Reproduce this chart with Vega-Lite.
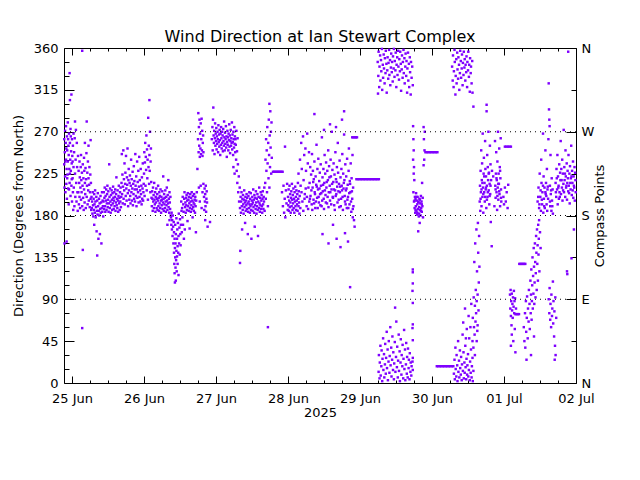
{
"$schema": "https://vega.github.io/schema/vega-lite/v6.json",
"autosize": "none",
"width": 512,
"height": 335,
"padding": {"left": 64, "top": 48, "right": 64, "bottom": 97},
"background": "white",
"title": {"text": "Wind Direction at Ian Stewart Complex", "font": "DejaVu Sans", "fontSize": 16, "fontWeight": "normal", "color": "black", "offset": 7, "dy": 10, "anchor": "middle"},
"config": {
  "view": {"stroke": "black", "strokeWidth": 1},
  "axis": {"labelFont": "DejaVu Sans", "labelFontSize": 13, "labelColor": "black", "titleFont": "DejaVu Sans", "titleFontSize": 13, "titleFontWeight": "normal", "titleColor": "black", "tickColor": "black", "tickWidth": 1, "domain": false, "grid": false, "labelOverlap": false, "labelFlush": false, "labelBound": false}
},
"resolve": {"axis": {"x": "independent", "y": "independent"}},
"layer": [
{
  "data": {"values": [
{"t":-2.6,"d":262},{"t":-2.6,"d":235},{"t":-2.5,"d":150},{"t":-2.4,"d":248},{"t":-2.3,"d":271},{"t":-2.3,"d":222},{"t":-2.2,"d":205},{"t":-2.1,"d":258},{"t":-2.0,"d":240},{"t":-2.0,"d":276},{"t":-1.9,"d":214},{"t":-1.8,"d":230},{"t":-1.8,"d":152},{"t":-1.7,"d":265},{"t":-1.7,"d":198},{"t":-1.6,"d":250},{"t":-1.5,"d":224},{"t":-1.4,"d":280},{"t":-1.4,"d":238},{"t":-1.3,"d":209},{"t":-1.2,"d":255},{"t":-1.1,"d":192},{"t":-1.1,"d":245},{"t":-1.0,"d":268},{"t":-0.9,"d":230},{"t":-0.8,"d":215},{"t":-0.8,"d":333},{"t":-0.7,"d":258},{"t":-0.7,"d":304},{"t":-0.6,"d":240},{"t":-0.5,"d":201},{"t":-0.5,"d":273},{"t":-0.4,"d":228},{"t":-0.3,"d":249},{"t":-0.2,"d":212},{"t":-0.2,"d":310},{"t":-0.1,"d":236},{"t":0.0,"d":262},{"t":0.0,"d":195},{"t":0.1,"d":244},{"t":0.2,"d":220},{"t":0.3,"d":255},{"t":0.3,"d":205},{"t":0.4,"d":186},{"t":0.5,"d":232},{"t":0.5,"d":268},
{"t":-2.5,"d":210},{"t":-2.2,"d":238},{"t":-1.9,"d":252},{"t":-1.6,"d":220},{"t":-1.3,"d":262},{"t":-1.0,"d":208},{"t":-0.7,"d":225},{"t":-0.4,"d":265},{"t":-0.1,"d":219},{"t":0.2,"d":238},
{"t":0.6,"d":210},{"t":0.7,"d":248},{"t":0.8,"d":190},{"t":0.9,"d":263},{"t":1.0,"d":281},{"t":1.0,"d":225},{"t":1.1,"d":200},{"t":1.2,"d":240},{"t":1.3,"d":272},{"t":1.4,"d":215},{"t":1.5,"d":195},{"t":1.6,"d":258},{"t":1.7,"d":232},{"t":1.8,"d":205},{"t":1.9,"d":185},{"t":2.0,"d":244},
{"t":2.1,"d":205},{"t":2.2,"d":228},{"t":2.3,"d":192},{"t":2.4,"d":215},{"t":2.5,"d":238},{"t":2.5,"d":200},{"t":2.6,"d":221},{"t":2.7,"d":188},{"t":2.8,"d":210},{"t":2.9,"d":232},{"t":3.0,"d":197},{"t":3.0,"d":245},{"t":3.1,"d":218},{"t":3.2,"d":205},{"t":3.3,"d":226},{"t":3.4,"d":59},{"t":3.4,"d":357},{"t":3.4,"d":190},{"t":3.5,"d":212},{"t":3.6,"d":143},{"t":3.6,"d":235},{"t":3.7,"d":199},{"t":3.8,"d":220},{"t":3.9,"d":186},{"t":4.0,"d":208},{"t":4.0,"d":242},{"t":4.1,"d":228},{"t":4.2,"d":194},{"t":4.3,"d":215},{"t":4.3,"d":258},{"t":4.4,"d":203},{"t":4.5,"d":231},{"t":4.6,"d":188},{"t":4.7,"d":219},{"t":4.8,"d":247},{"t":4.9,"d":281},{"t":4.9,"d":200},{"t":5.0,"d":212},{"t":5.1,"d":226},{"t":5.2,"d":192},{"t":5.3,"d":238},{"t":5.4,"d":207},{"t":5.5,"d":255},{"t":5.5,"d":220},{"t":5.6,"d":196},{"t":5.7,"d":213},{"t":5.8,"d":232},{"t":5.9,"d":189},{"t":6.0,"d":205},{"t":6.1,"d":224},{"t":6.2,"d":261},{"t":6.2,"d":198},{"t":6.3,"d":215},{"t":6.4,"d":186},
{"t":6.5,"d":200},{"t":6.6,"d":188},{"t":6.7,"d":195},{"t":6.8,"d":182},{"t":6.9,"d":205},{"t":7.0,"d":191},{"t":7.1,"d":179},{"t":7.2,"d":198},{"t":7.3,"d":186},{"t":7.4,"d":170},{"t":7.4,"d":203},{"t":7.5,"d":192},{"t":7.6,"d":183},{"t":7.7,"d":207},{"t":7.8,"d":195},{"t":7.9,"d":178},{"t":8.0,"d":189},{"t":8.1,"d":200},{"t":8.2,"d":163},{"t":8.3,"d":185},{"t":8.4,"d":137},{"t":8.4,"d":196},{"t":8.5,"d":181},{"t":8.6,"d":204},{"t":8.7,"d":190},{"t":8.8,"d":155},{"t":8.9,"d":185},{"t":9.0,"d":198},{"t":9.1,"d":180},{"t":9.2,"d":193},{"t":9.3,"d":160},{"t":9.4,"d":187},{"t":9.5,"d":201},{"t":9.6,"d":183},{"t":9.7,"d":194},{"t":9.8,"d":150},{"t":9.9,"d":188},{"t":10.0,"d":205},{"t":10.1,"d":184},{"t":10.2,"d":196},{"t":10.3,"d":190},{"t":10.4,"d":179},
{"t":10.5,"d":195},{"t":10.6,"d":205},{"t":10.7,"d":187},{"t":10.8,"d":199},{"t":10.9,"d":210},{"t":11.0,"d":190},{"t":11.1,"d":184},{"t":11.2,"d":201},{"t":11.3,"d":196},{"t":11.4,"d":208},{"t":11.5,"d":186},{"t":11.6,"d":193},{"t":11.7,"d":203},{"t":11.8,"d":212},{"t":11.9,"d":189},{"t":12.0,"d":197},{"t":12.1,"d":206},{"t":12.2,"d":184},{"t":12.3,"d":193},{"t":12.4,"d":235},{"t":12.5,"d":200},{"t":12.6,"d":188},{"t":12.7,"d":209},{"t":12.8,"d":195},{"t":12.9,"d":183},{"t":13.0,"d":202},{"t":13.1,"d":191},{"t":13.2,"d":207},{"t":13.3,"d":197},{"t":13.4,"d":186},{"t":13.5,"d":204},{"t":13.6,"d":193},{"t":13.7,"d":211},{"t":13.8,"d":199},{"t":13.9,"d":187},{"t":14.0,"d":196},{"t":14.1,"d":205},{"t":14.2,"d":190},{"t":14.3,"d":200},{"t":14.4,"d":208},{"t":14.5,"d":185},{"t":14.6,"d":194},{"t":14.7,"d":203},{"t":14.8,"d":221},{"t":14.9,"d":191},{"t":15.0,"d":198},{"t":15.1,"d":188},{"t":15.2,"d":207},{"t":15.3,"d":196},{"t":15.4,"d":184},{"t":15.5,"d":201},{"t":15.6,"d":212},{"t":15.7,"d":193},{"t":15.8,"d":199},{"t":15.9,"d":186},{"t":16.0,"d":205},{"t":16.1,"d":195},{"t":16.2,"d":210},{"t":16.3,"d":189},{"t":16.4,"d":200},
{"t":16.5,"d":215},{"t":16.6,"d":246},{"t":16.7,"d":203},{"t":16.8,"d":224},{"t":16.9,"d":193},{"t":17.0,"d":211},{"t":17.1,"d":250},{"t":17.2,"d":198},{"t":17.3,"d":219},{"t":17.4,"d":207},{"t":17.5,"d":236},{"t":17.6,"d":192},{"t":17.7,"d":214},{"t":17.8,"d":226},{"t":17.9,"d":201},{"t":18.0,"d":244},{"t":18.1,"d":209},{"t":18.2,"d":196},{"t":18.3,"d":221},{"t":18.4,"d":213},{"t":18.5,"d":252},{"t":18.6,"d":204},{"t":18.7,"d":190},{"t":18.8,"d":218},{"t":18.9,"d":230},{"t":19.0,"d":207},{"t":19.1,"d":197},{"t":19.2,"d":215},{"t":19.3,"d":223},{"t":19.4,"d":201},{"t":19.5,"d":193},{"t":19.6,"d":212},{"t":19.7,"d":240},{"t":19.8,"d":205},{"t":19.9,"d":219},{"t":20.0,"d":196},{"t":20.1,"d":209},{"t":20.2,"d":227},{"t":20.3,"d":191},{"t":20.4,"d":214},{"t":20.5,"d":203},{"t":20.6,"d":233},{"t":20.7,"d":198},{"t":20.8,"d":217},{"t":20.9,"d":208},{"t":21.0,"d":195},{"t":21.1,"d":246},{"t":21.2,"d":212},{"t":21.3,"d":201},{"t":21.4,"d":222},{"t":21.5,"d":190},{"t":21.6,"d":208},{"t":21.7,"d":238},{"t":21.8,"d":199},{"t":21.9,"d":216},{"t":22.0,"d":205},{"t":22.1,"d":228},{"t":22.2,"d":194},{"t":22.3,"d":211},{"t":22.4,"d":243},
{"t":22.5,"d":200},{"t":22.6,"d":218},{"t":22.7,"d":207},{"t":22.8,"d":195},{"t":22.9,"d":230},{"t":23.0,"d":203},{"t":23.1,"d":212},{"t":23.2,"d":192},{"t":23.3,"d":221},{"t":23.4,"d":198},{"t":23.5,"d":209},{"t":23.6,"d":236},{"t":23.7,"d":196},{"t":23.8,"d":205},{"t":23.9,"d":214},
{"t":24.0,"d":225},{"t":24.1,"d":248},{"t":24.2,"d":201},{"t":24.3,"d":237},{"t":24.4,"d":258},{"t":24.5,"d":212},{"t":24.6,"d":243},{"t":24.7,"d":229},{"t":24.8,"d":266},{"t":24.9,"d":207},{"t":25.0,"d":251},{"t":25.1,"d":220},{"t":25.2,"d":240},{"t":25.3,"d":197},{"t":25.4,"d":285},{"t":25.5,"d":232},{"t":25.6,"d":255},{"t":25.7,"d":214},{"t":25.8,"d":304},{"t":25.8,"d":245},{"t":25.9,"d":228},{"t":26.0,"d":270},{"t":26.1,"d":205},{"t":26.2,"d":238},{"t":26.3,"d":252},{"t":26.4,"d":216},{"t":26.5,"d":199},
{"t":26.6,"d":190},{"t":26.7,"d":206},{"t":26.8,"d":198},{"t":26.9,"d":185},{"t":27.0,"d":210},{"t":27.1,"d":195},{"t":27.2,"d":202},{"t":27.3,"d":188},{"t":27.4,"d":215},{"t":27.5,"d":197},{"t":27.6,"d":192},{"t":27.7,"d":205},{"t":27.8,"d":184},{"t":27.9,"d":200},{"t":28.0,"d":194},{"t":28.1,"d":209},{"t":28.2,"d":188},{"t":28.3,"d":198},{"t":28.4,"d":203},{"t":28.5,"d":186},{"t":28.6,"d":196},{"t":28.7,"d":212},{"t":28.8,"d":190},{"t":28.9,"d":199},{"t":29.0,"d":185},{"t":29.1,"d":205},{"t":29.2,"d":193},{"t":29.3,"d":201},{"t":29.4,"d":188},{"t":29.5,"d":208},{"t":29.6,"d":196},{"t":29.7,"d":183},{"t":29.8,"d":200},{"t":29.9,"d":191},{"t":30.0,"d":197},{"t":30.1,"d":206},{"t":30.2,"d":187},{"t":30.3,"d":194},{"t":30.4,"d":222},{"t":30.5,"d":198},{"t":30.6,"d":185},{"t":30.7,"d":203},{"t":30.8,"d":192},{"t":30.9,"d":199},{"t":31.0,"d":188},{"t":31.1,"d":207},{"t":31.2,"d":195},{"t":31.3,"d":184},{"t":31.4,"d":200},{"t":31.5,"d":191},{"t":31.6,"d":210},{"t":31.7,"d":196},{"t":31.8,"d":186},{"t":31.8,"d":170},{"t":31.9,"d":202},{"t":32.0,"d":193},{"t":32.1,"d":218},{"t":32.2,"d":189},{"t":32.3,"d":198},{"t":32.4,"d":183},{"t":32.5,"d":205},{"t":32.5,"d":175},{"t":32.6,"d":194},{"t":32.7,"d":187},{"t":32.8,"d":200},{"t":32.9,"d":180},
{"t":33.0,"d":178},{"t":33.1,"d":170},{"t":33.2,"d":183},{"t":33.3,"d":165},{"t":33.4,"d":175},{"t":33.5,"d":158},{"t":33.6,"d":180},{"t":33.7,"d":168},{"t":33.8,"d":150},{"t":33.9,"d":173},{"t":34.0,"d":140},{"t":34.0,"d":162},{"t":34.1,"d":128},{"t":34.2,"d":155},{"t":34.2,"d":118},{"t":34.3,"d":145},{"t":34.3,"d":108},{"t":34.4,"d":135},{"t":34.4,"d":170},{"t":34.5,"d":124},{"t":34.5,"d":150},{"t":34.6,"d":110},{"t":34.6,"d":160},{"t":34.7,"d":132},{"t":34.8,"d":142},{"t":34.8,"d":177},{"t":34.9,"d":120},{"t":35.0,"d":155},{"t":35.0,"d":136},{"t":35.1,"d":165},{"t":35.2,"d":128},{"t":35.2,"d":147},{"t":35.3,"d":172},{"t":35.4,"d":140},{"t":35.5,"d":158},{"t":35.5,"d":116},{"t":35.6,"d":182},{"t":35.7,"d":150},{"t":35.8,"d":167},{"t":35.9,"d":138},{"t":36.0,"d":176},{"t":36.1,"d":160},{"t":36.2,"d":148},{"t":36.3,"d":170},{"t":36.5,"d":185},{"t":36.6,"d":162},{"t":36.8,"d":178},{"t":37.0,"d":170},{"t":37.3,"d":155},{"t":37.6,"d":165},
{"t":36.4,"d":195},{"t":36.7,"d":188},{"t":36.9,"d":200},{"t":37.1,"d":192},{"t":37.2,"d":184},{"t":37.4,"d":198},{"t":37.5,"d":205},{"t":37.7,"d":189},{"t":37.8,"d":194},{"t":37.9,"d":183},{"t":38.0,"d":199},{"t":38.1,"d":191},{"t":38.2,"d":202},{"t":38.3,"d":186},{"t":38.4,"d":196},{"t":38.5,"d":174},{"t":38.6,"d":204},{"t":38.7,"d":190},{"t":38.8,"d":197},{"t":38.9,"d":185},{"t":39.0,"d":200},{"t":39.1,"d":193},{"t":39.2,"d":166},{"t":39.3,"d":188},{"t":39.4,"d":203},{"t":39.5,"d":195},{"t":39.6,"d":184},{"t":39.7,"d":199},{"t":39.8,"d":191},{"t":39.9,"d":205},{"t":40.0,"d":187},{"t":40.1,"d":196},{"t":40.2,"d":178},{"t":40.3,"d":201},{"t":40.4,"d":189},{"t":40.5,"d":194},{"t":40.6,"d":185},{"t":40.7,"d":203},{"t":40.8,"d":192},{"t":40.9,"d":197},{"t":41.0,"d":183},{"t":41.1,"d":200},{"t":41.2,"d":190},{"t":41.3,"d":162},{"t":41.4,"d":196},
{"t":41.6,"d":205},{"t":41.8,"d":230},{"t":42.0,"d":262},{"t":42.1,"d":290},{"t":42.2,"d":248},{"t":42.3,"d":275},{"t":42.4,"d":255},{"t":42.5,"d":283},{"t":42.6,"d":243},{"t":42.7,"d":268},{"t":42.8,"d":252},{"t":42.9,"d":279},{"t":43.0,"d":246},{"t":43.1,"d":262},{"t":43.2,"d":284},{"t":43.3,"d":250},{"t":43.4,"d":271},{"t":43.5,"d":244},{"t":43.6,"d":258},{"t":43.7,"d":266},{"t":43.8,"d":248},{"t":42.3,"d":210},{"t":42.6,"d":195},{"t":42.9,"d":212},{"t":43.2,"d":188},{"t":43.5,"d":205},{"t":43.8,"d":214},{"t":44.0,"d":200},{"t":44.1,"d":186},{"t":44.2,"d":209},{"t":44.3,"d":195},{"t":44.4,"d":203},{"t":44.4,"d":175},{"t":44.5,"d":190},{"t":44.6,"d":212},{"t":44.7,"d":184},{"t":44.8,"d":198},{"t":44.9,"d":206},{"t":45.0,"d":194},{"t":45.2,"d":168},{"t":46.0,"d":173},
{"t":46.6,"d":262},{"t":46.8,"d":275},{"t":46.9,"d":250},{"t":47.0,"d":283},{"t":47.1,"d":296},{"t":47.2,"d":266},{"t":47.3,"d":258},{"t":47.4,"d":271},{"t":47.5,"d":246},{"t":47.6,"d":263},{"t":47.7,"d":279},{"t":47.8,"d":255},{"t":47.9,"d":268},{"t":48.0,"d":260},{"t":48.1,"d":274},{"t":48.2,"d":251},{"t":48.3,"d":265},{"t":48.4,"d":257},{"t":48.5,"d":270},{"t":48.6,"d":262},{"t":48.7,"d":248},{"t":48.8,"d":277},{"t":48.9,"d":259},{"t":49.0,"d":267},{"t":49.1,"d":254},{"t":49.2,"d":272},{"t":49.3,"d":261},{"t":49.4,"d":245},{"t":49.5,"d":268},{"t":49.6,"d":256},{"t":49.7,"d":275},{"t":49.8,"d":263},{"t":49.9,"d":252},{"t":50.0,"d":270},{"t":50.1,"d":258},{"t":50.2,"d":266},{"t":50.3,"d":249},{"t":50.4,"d":273},{"t":50.5,"d":260},{"t":50.6,"d":255},{"t":50.7,"d":281},{"t":50.8,"d":264},{"t":50.9,"d":250},{"t":51.0,"d":269},{"t":51.1,"d":257},{"t":51.2,"d":262},{"t":51.3,"d":276},{"t":51.4,"d":253},{"t":51.5,"d":265},{"t":51.6,"d":243},{"t":51.7,"d":259},{"t":51.8,"d":271},{"t":51.9,"d":256},{"t":52.0,"d":264},{"t":52.1,"d":250},{"t":52.2,"d":268},{"t":52.3,"d":261},{"t":52.4,"d":278},{"t":52.5,"d":254},{"t":52.6,"d":266},{"t":52.7,"d":247},{"t":52.8,"d":260},{"t":52.9,"d":272},{"t":53.0,"d":255},{"t":53.1,"d":263},{"t":53.2,"d":258},{"t":53.3,"d":280},{"t":53.4,"d":251},{"t":53.5,"d":267},{"t":53.6,"d":259},{"t":53.7,"d":245},{"t":53.8,"d":270},{"t":53.9,"d":262},{"t":54.0,"d":253},{"t":54.1,"d":275},{"t":54.2,"d":257},{"t":54.3,"d":265},{"t":54.4,"d":248},{"t":54.5,"d":262},{"t":54.6,"d":256},{"t":54.8,"d":271},{"t":55.0,"d":249},{"t":55.2,"d":263},
{"t":54.7,"d":240},{"t":54.9,"d":228},{"t":55.1,"d":215},{"t":55.3,"d":235},{"t":55.4,"d":205},{"t":55.6,"d":222},{"t":55.7,"d":195},{"t":55.9,"d":210},{"t":53.8,"d":232},{"t":54.2,"d":225},
{"t":56.0,"d":129},{"t":56.0,"d":188},{"t":56.1,"d":142},{"t":56.2,"d":200},{"t":56.3,"d":183},{"t":56.4,"d":195},{"t":56.5,"d":205},{"t":56.6,"d":190},{"t":56.7,"d":165},{"t":56.8,"d":198},{"t":56.9,"d":186},{"t":57.0,"d":202},{"t":57.1,"d":192},{"t":57.2,"d":182},{"t":57.3,"d":197},{"t":57.4,"d":207},{"t":57.5,"d":189},{"t":57.6,"d":194},{"t":57.7,"d":172},{"t":57.8,"d":200},{"t":57.9,"d":185},{"t":58.0,"d":196},{"t":58.1,"d":191},{"t":58.2,"d":203},{"t":58.3,"d":187},{"t":58.4,"d":199},{"t":58.5,"d":193},{"t":58.6,"d":160},{"t":58.7,"d":184},{"t":58.8,"d":201},{"t":58.9,"d":195},{"t":59.0,"d":188},{"t":59.1,"d":205},{"t":59.2,"d":192},{"t":59.3,"d":183},{"t":59.4,"d":198},{"t":59.5,"d":190},{"t":59.6,"d":204},{"t":59.7,"d":186},{"t":59.8,"d":155},{"t":59.9,"d":196},{"t":60.0,"d":192},{"t":60.1,"d":200},{"t":60.2,"d":185},{"t":60.3,"d":194},{"t":60.4,"d":208},{"t":60.5,"d":189},{"t":60.6,"d":197},{"t":60.7,"d":183},{"t":60.8,"d":202},{"t":60.9,"d":168},{"t":61.0,"d":191},{"t":61.1,"d":199},{"t":61.2,"d":187},{"t":61.3,"d":206},{"t":61.4,"d":194},{"t":61.5,"d":182},{"t":61.6,"d":198},{"t":61.7,"d":190},{"t":61.8,"d":203},{"t":61.9,"d":186},{"t":62.0,"d":158},{"t":62.1,"d":195},{"t":62.2,"d":200},{"t":62.3,"d":188},{"t":62.4,"d":210},{"t":62.5,"d":193},{"t":62.6,"d":184},{"t":62.7,"d":199},{"t":62.8,"d":191},{"t":62.9,"d":205},{"t":63.0,"d":187},{"t":63.1,"d":196},{"t":63.2,"d":202},{"t":63.3,"d":190},{"t":63.4,"d":183},{"t":63.5,"d":198},{"t":63.6,"d":206},{"t":63.7,"d":192},{"t":63.8,"d":187},{"t":63.9,"d":200},{"t":64.0,"d":195},{"t":64.1,"d":210},{"t":64.2,"d":185},
{"t":64.4,"d":215},{"t":64.5,"d":240},{"t":64.6,"d":198},{"t":64.7,"d":262},{"t":64.8,"d":228},{"t":64.9,"d":250},{"t":65.0,"d":205},{"t":65.1,"d":275},{"t":65.2,"d":236},{"t":65.3,"d":60},{"t":65.3,"d":190},{"t":65.4,"d":258},{"t":65.5,"d":220},{"t":65.6,"d":283},{"t":65.7,"d":245},{"t":65.8,"d":300},{"t":65.8,"d":210},{"t":65.9,"d":266},{"t":66.0,"d":232},{"t":66.1,"d":292},{"t":66.2,"d":253},{"t":66.3,"d":270},{"t":66.4,"d":225},{"t":66.5,"d":280},{"t":66.6,"d":242},
{"t":67.0,"d":227},{"t":67.4,"d":227},{"t":67.8,"d":227},{"t":68.2,"d":227},{"t":68.6,"d":227},{"t":69.0,"d":227},{"t":69.4,"d":227},{"t":69.8,"d":227},{"t":70.2,"d":227},
{"t":70.0,"d":205},{"t":70.3,"d":190},{"t":70.5,"d":212},{"t":70.7,"d":183},{"t":70.9,"d":198},{"t":71.0,"d":254},{"t":71.1,"d":178},{"t":71.3,"d":207},{"t":71.5,"d":193},{"t":71.7,"d":214},{"t":71.9,"d":186},
{"t":72.0,"d":200},{"t":72.1,"d":191},{"t":72.2,"d":208},{"t":72.3,"d":185},{"t":72.4,"d":196},{"t":72.5,"d":212},{"t":72.6,"d":189},{"t":72.7,"d":203},{"t":72.8,"d":194},{"t":72.9,"d":183},{"t":73.0,"d":199},{"t":73.1,"d":206},{"t":73.2,"d":190},{"t":73.3,"d":214},{"t":73.4,"d":197},{"t":73.5,"d":186},{"t":73.6,"d":202},{"t":73.7,"d":193},{"t":73.8,"d":209},{"t":73.9,"d":188},{"t":74.0,"d":198},{"t":74.1,"d":183},{"t":74.2,"d":205},{"t":74.3,"d":195},{"t":74.4,"d":211},{"t":74.5,"d":190},{"t":74.6,"d":200},{"t":74.7,"d":186},{"t":74.8,"d":207},{"t":74.9,"d":196},{"t":75.0,"d":192},{"t":75.1,"d":203},{"t":75.2,"d":185},{"t":75.3,"d":215},{"t":75.4,"d":198},{"t":75.5,"d":190},{"t":75.6,"d":206},{"t":75.7,"d":194},{"t":75.8,"d":182},{"t":75.9,"d":201},
{"t":75.5,"d":225},{"t":76.0,"d":240},{"t":76.2,"d":212},{"t":76.4,"d":258},{"t":76.6,"d":230},{"t":76.8,"d":195},{"t":77.0,"d":265},{"t":77.2,"d":218},{"t":77.4,"d":245},{"t":77.6,"d":203},{"t":77.8,"d":252},{"t":78.0,"d":228},{"t":78.2,"d":190},{"t":78.4,"d":268},{"t":78.6,"d":236},{"t":78.8,"d":210},{"t":79.0,"d":248},{"t":76.1,"d":188},{"t":76.5,"d":205},{"t":77.1,"d":185},{"t":77.5,"d":198},{"t":77.9,"d":209},{"t":78.3,"d":200},{"t":78.7,"d":187},{"t":79.1,"d":195},
{"t":79.2,"d":215},{"t":79.4,"d":232},{"t":79.5,"d":201},{"t":79.7,"d":224},{"t":79.9,"d":192},{"t":80.0,"d":246},{"t":80.2,"d":210},{"t":80.3,"d":228},{"t":80.5,"d":197},{"t":80.6,"d":219},{"t":80.8,"d":238},{"t":80.9,"d":205},{"t":81.1,"d":188},{"t":81.2,"d":222},{"t":81.4,"d":213},{"t":81.5,"d":256},{"t":81.7,"d":199},{"t":81.8,"d":230},{"t":82.0,"d":208},{"t":82.1,"d":241},{"t":82.3,"d":194},{"t":82.4,"d":217},{"t":82.6,"d":226},{"t":82.7,"d":203},{"t":82.9,"d":235},{"t":83.0,"d":212},{"t":83.2,"d":190},{"t":83.3,"d":264},{"t":83.5,"d":221},{"t":83.6,"d":206},{"t":83.8,"d":230},{"t":83.9,"d":198},{"t":84.1,"d":215},{"t":84.2,"d":245},{"t":84.4,"d":225},{"t":84.5,"d":202},{"t":84.7,"d":237},{"t":84.8,"d":210},{"t":85.0,"d":193},{"t":85.1,"d":228},{"t":85.3,"d":218},{"t":85.4,"d":250},{"t":85.6,"d":205},{"t":85.7,"d":233},{"t":85.9,"d":212},{"t":86.0,"d":196},{"t":86.2,"d":240},{"t":86.3,"d":222},{"t":86.5,"d":208},{"t":86.6,"d":270},{"t":86.8,"d":229},{"t":86.9,"d":200},{"t":87.1,"d":216},{"t":87.2,"d":236},{"t":87.4,"d":191},{"t":87.5,"d":224},{"t":87.7,"d":207},{"t":87.8,"d":248},{"t":88.0,"d":219},{"t":88.1,"d":203},{"t":88.3,"d":232},{"t":88.4,"d":211},{"t":88.6,"d":258},{"t":88.7,"d":226},{"t":88.9,"d":197},{"t":89.0,"d":214},{"t":89.2,"d":239},{"t":89.3,"d":205},{"t":89.5,"d":221},{"t":89.6,"d":190},{"t":89.8,"d":230},{"t":89.9,"d":212},{"t":90.1,"d":246},{"t":90.2,"d":200},{"t":90.4,"d":225},{"t":90.5,"d":209},{"t":90.7,"d":267},{"t":90.8,"d":218},{"t":91.0,"d":195},{"t":91.1,"d":235},{"t":91.3,"d":207},{"t":91.4,"d":222},{"t":91.6,"d":188},{"t":91.7,"d":241},{"t":91.9,"d":213},{"t":92.0,"d":200},{"t":92.2,"d":228},{"t":92.3,"d":252},{"t":92.5,"d":192},{"t":92.6,"d":217},{"t":92.8,"d":205},{"t":92.9,"d":236},{"t":93.1,"d":184},{"t":93.2,"d":220},{"t":93.4,"d":198},{"t":93.5,"d":245},{"t":93.7,"d":210},{"t":93.8,"d":190},
{"t":79.3,"d":198},{"t":79.8,"d":207},{"t":80.1,"d":186},{"t":80.4,"d":216},{"t":80.7,"d":193},{"t":81.0,"d":203},{"t":81.3,"d":195},{"t":81.6,"d":211},{"t":81.9,"d":188},{"t":82.2,"d":200},{"t":82.5,"d":209},{"t":82.8,"d":191},{"t":83.1,"d":204},{"t":83.4,"d":196},{"t":83.7,"d":213},{"t":84.0,"d":187},{"t":84.3,"d":207},{"t":84.6,"d":194},{"t":84.9,"d":216},{"t":85.2,"d":200},{"t":85.5,"d":189},{"t":85.8,"d":221},{"t":86.1,"d":205},{"t":86.4,"d":192},{"t":86.7,"d":214},{"t":87.0,"d":199},{"t":87.3,"d":208},{"t":87.6,"d":186},{"t":87.9,"d":201},{"t":88.2,"d":216},{"t":88.5,"d":194},{"t":88.8,"d":206},{"t":89.1,"d":189},{"t":89.4,"d":211},{"t":89.7,"d":198},{"t":90.0,"d":207},{"t":90.3,"d":186},{"t":90.6,"d":215},{"t":90.9,"d":201},{"t":91.2,"d":192},{"t":91.5,"d":209},{"t":91.8,"d":197},{"t":92.1,"d":188},{"t":92.4,"d":204},{"t":92.7,"d":214},{"t":93.0,"d":195},{"t":93.3,"d":206},{"t":93.6,"d":187},
{"t":80.8,"d":289},{"t":83.5,"d":160},{"t":85.5,"d":150},{"t":87.0,"d":170},{"t":88.2,"d":155},{"t":89.5,"d":146},{"t":91.0,"d":161},{"t":92.0,"d":152},{"t":92.7,"d":103},{"t":90.0,"d":283},{"t":90.7,"d":292},{"t":86.0,"d":278},{"t":84.0,"d":272},{"t":88.0,"d":275},{"t":94.0,"d":175},{"t":94.2,"d":168},{"t":93.6,"d":178},
{"t":93.4,"d":264},{"t":93.8,"d":264},{"t":94.2,"d":264},{"t":94.6,"d":264},{"t":95.0,"d":264},
{"t":94.8,"d":219},{"t":95.3,"d":219},{"t":95.8,"d":219},{"t":96.3,"d":219},{"t":96.8,"d":219},{"t":97.3,"d":219},{"t":97.8,"d":219},{"t":98.3,"d":219},{"t":98.8,"d":219},{"t":99.3,"d":219},{"t":99.8,"d":219},{"t":100.3,"d":219},{"t":100.8,"d":219},{"t":101.3,"d":219},{"t":101.8,"d":219},{"t":102.3,"d":219},
{"t":101.9,"d":345},{"t":102.0,"d":311},{"t":102.1,"d":330},{"t":102.2,"d":356},{"t":102.4,"d":318},{"t":102.5,"d":340},{"t":102.7,"d":352},{"t":102.8,"d":325},{"t":103.0,"d":347},{"t":103.1,"d":335},{"t":103.3,"d":359},{"t":103.4,"d":315},{"t":103.6,"d":342},{"t":103.7,"d":328},{"t":103.9,"d":353},{"t":104.0,"d":338},{"t":104.2,"d":322},{"t":104.3,"d":349},{"t":104.5,"d":333},{"t":104.6,"d":357},{"t":104.8,"d":343},{"t":104.9,"d":312},{"t":105.1,"d":336},{"t":105.2,"d":350},{"t":105.4,"d":327},{"t":105.5,"d":344},{"t":105.7,"d":358},{"t":105.8,"d":331},{"t":106.0,"d":347},{"t":106.1,"d":320},{"t":106.3,"d":339},{"t":106.4,"d":354},{"t":106.6,"d":334},{"t":106.7,"d":345},{"t":106.9,"d":324},{"t":107.0,"d":351},{"t":107.2,"d":338},{"t":107.3,"d":359},{"t":107.5,"d":329},{"t":107.6,"d":346},{"t":107.8,"d":336},{"t":107.9,"d":355},{"t":108.1,"d":318},{"t":108.2,"d":342},{"t":108.4,"d":350},{"t":108.5,"d":331},{"t":108.7,"d":357},{"t":108.8,"d":340},{"t":109.0,"d":326},{"t":109.1,"d":348},{"t":109.3,"d":335},{"t":109.4,"d":356},{"t":109.6,"d":343},{"t":109.7,"d":314},{"t":109.9,"d":337},{"t":110.0,"d":352},{"t":110.2,"d":328},{"t":110.3,"d":345},{"t":110.5,"d":358},{"t":110.6,"d":333},{"t":110.8,"d":349},{"t":110.9,"d":322},{"t":111.1,"d":340},{"t":111.2,"d":354},{"t":111.4,"d":330},{"t":111.5,"d":346},{"t":111.7,"d":312},{"t":111.8,"d":338},{"t":112.0,"d":355},{"t":112.1,"d":325},{"t":112.3,"d":343},{"t":112.4,"d":318},{"t":112.6,"d":350},{"t":112.7,"d":334},{"t":112.9,"d":310},{"t":113.0,"d":345},{"t":113.2,"d":328},{"t":113.4,"d":340},{"t":113.6,"d":320},
{"t":102.2,"d":12},{"t":102.3,"d":30},{"t":102.5,"d":5},{"t":102.6,"d":22},{"t":102.8,"d":40},{"t":102.9,"d":8},{"t":103.1,"d":18},{"t":103.2,"d":35},{"t":103.4,"d":2},{"t":103.5,"d":26},{"t":103.7,"d":48},{"t":103.8,"d":14},{"t":104.0,"d":31},{"t":104.1,"d":6},{"t":104.3,"d":20},{"t":104.4,"d":42},{"t":104.6,"d":10},{"t":104.7,"d":27},{"t":104.9,"d":55},{"t":105.0,"d":16},{"t":105.2,"d":36},{"t":105.3,"d":3},{"t":105.5,"d":23},{"t":105.6,"d":45},{"t":105.8,"d":11},{"t":105.9,"d":29},{"t":106.1,"d":60},{"t":106.2,"d":19},{"t":106.4,"d":38},{"t":106.5,"d":7},{"t":106.7,"d":25},{"t":106.8,"d":50},{"t":107.0,"d":14},{"t":107.1,"d":33},{"t":107.3,"d":4},{"t":107.4,"d":21},{"t":107.6,"d":44},{"t":107.7,"d":81},{"t":107.8,"d":12},{"t":108.0,"d":28},{"t":108.1,"d":66},{"t":108.3,"d":17},{"t":108.4,"d":39},{"t":108.6,"d":6},{"t":108.7,"d":24},{"t":108.9,"d":52},{"t":109.0,"d":13},{"t":109.2,"d":34},{"t":109.3,"d":2},{"t":109.5,"d":22},{"t":109.6,"d":47},{"t":109.8,"d":9},{"t":109.9,"d":30},{"t":110.1,"d":18},{"t":110.2,"d":41},{"t":110.4,"d":5},{"t":110.5,"d":26},{"t":110.7,"d":57},{"t":110.8,"d":15},{"t":111.0,"d":36},{"t":111.1,"d":3},{"t":111.3,"d":20},{"t":111.4,"d":43},{"t":111.6,"d":10},{"t":111.7,"d":28},{"t":111.9,"d":6},{"t":112.0,"d":37},{"t":112.2,"d":16},{"t":112.3,"d":25},{"t":112.5,"d":4},{"t":112.6,"d":32},{"t":112.8,"d":12},{"t":112.9,"d":22},{"t":113.1,"d":8},{"t":113.2,"d":18},
{"t":113.6,"d":122},{"t":113.6,"d":119},{"t":113.6,"d":107},{"t":113.5,"d":99},{"t":113.6,"d":86},{"t":113.6,"d":63},{"t":113.5,"d":59},{"t":113.6,"d":46},{"t":113.6,"d":27},{"t":113.5,"d":23},{"t":113.6,"d":14},
{"t":113.7,"d":276},{"t":113.8,"d":262},{"t":113.9,"d":250},{"t":113.7,"d":240},{"t":114.0,"d":232},{"t":113.9,"d":225},{"t":114.1,"d":218},{"t":113.8,"d":205},{"t":114.0,"d":195},{"t":114.2,"d":188},{"t":114.3,"d":200},{"t":114.4,"d":183},{"t":114.5,"d":198},{"t":114.6,"d":190},{"t":114.7,"d":204},{"t":114.8,"d":185},{"t":114.9,"d":196},{"t":115.0,"d":181},{"t":115.1,"d":192},{"t":115.2,"d":200},{"t":115.3,"d":187},{"t":115.4,"d":163},{"t":115.5,"d":195},{"t":115.6,"d":179},{"t":115.7,"d":189},{"t":115.8,"d":198},{"t":115.9,"d":172},{"t":116.0,"d":186},{"t":116.1,"d":193},{"t":116.2,"d":180},{"t":116.3,"d":201},{"t":116.4,"d":188},{"t":116.5,"d":195},{"t":116.6,"d":184},{"t":116.8,"d":190},{"t":117.0,"d":178},{"t":116.7,"d":215},{"t":117.2,"d":275},{"t":117.3,"d":262},{"t":117.4,"d":240},{"t":117.5,"d":250},{"t":117.2,"d":234},{"t":117.6,"d":270},
{"t":114.2,"d":196},{"t":114.5,"d":186},{"t":114.8,"d":200},{"t":115.1,"d":183},{"t":115.4,"d":194},{"t":115.7,"d":182},{"t":116.0,"d":197},{"t":116.3,"d":185},{"t":116.6,"d":192},{"t":116.9,"d":199},
{"t":117.8,"d":248},{"t":118.3,"d":248},{"t":118.8,"d":248},{"t":119.3,"d":248},{"t":119.8,"d":248},{"t":120.3,"d":248},{"t":120.8,"d":248},{"t":121.3,"d":248},{"t":121.8,"d":248},
{"t":121.6,"d":18},{"t":122.1,"d":18},{"t":122.6,"d":18},{"t":123.1,"d":18},{"t":123.6,"d":18},{"t":124.1,"d":18},{"t":124.6,"d":18},{"t":125.1,"d":18},{"t":125.6,"d":18},{"t":126.1,"d":18},{"t":126.6,"d":18},{"t":127.1,"d":18},
{"t":126.7,"d":340},{"t":126.9,"d":325},{"t":127.0,"d":352},{"t":127.2,"d":318},{"t":127.3,"d":335},{"t":127.5,"d":358},{"t":127.6,"d":345},{"t":127.8,"d":310},{"t":127.9,"d":330},{"t":128.1,"d":348},{"t":128.2,"d":322},{"t":128.4,"d":355},{"t":128.5,"d":337},{"t":128.7,"d":327},{"t":128.8,"d":350},{"t":129.0,"d":342},{"t":129.1,"d":315},{"t":129.3,"d":333},{"t":129.4,"d":357},{"t":129.6,"d":346},{"t":129.7,"d":328},{"t":129.9,"d":338},{"t":130.0,"d":353},{"t":130.2,"d":320},{"t":130.3,"d":344},{"t":130.5,"d":331},{"t":130.6,"d":356},{"t":130.8,"d":339},{"t":130.9,"d":348},{"t":131.1,"d":325},{"t":131.2,"d":342},{"t":131.4,"d":334},{"t":131.5,"d":351},{"t":131.7,"d":318},{"t":131.8,"d":345},{"t":132.0,"d":336},{"t":132.1,"d":356},{"t":132.3,"d":329},{"t":132.4,"d":342},{"t":132.6,"d":313},{"t":132.7,"d":349},{"t":132.9,"d":333},{"t":133.0,"d":340},{"t":133.2,"d":322},{"t":133.4,"d":346},{"t":133.5,"d":312},
{"t":133.8,"d":297},{"t":138.2,"d":299},{"t":138.2,"d":292},
{"t":127.3,"d":10},{"t":127.5,"d":25},{"t":127.6,"d":4},{"t":127.8,"d":38},{"t":127.9,"d":15},{"t":128.1,"d":7},{"t":128.2,"d":30},{"t":128.4,"d":19},{"t":128.5,"d":2},{"t":128.7,"d":45},{"t":128.8,"d":12},{"t":129.0,"d":24},{"t":129.1,"d":6},{"t":129.3,"d":35},{"t":129.4,"d":16},{"t":129.6,"d":9},{"t":129.7,"d":28},{"t":129.9,"d":3},{"t":130.0,"d":20},{"t":130.2,"d":52},{"t":130.3,"d":13},{"t":130.5,"d":33},{"t":130.6,"d":5},{"t":130.8,"d":22},{"t":130.9,"d":11},{"t":131.1,"d":40},{"t":131.2,"d":17},{"t":131.4,"d":4},{"t":131.5,"d":26},{"t":131.7,"d":9},{"t":131.8,"d":19},{"t":132.0,"d":31},{"t":132.1,"d":7},{"t":132.3,"d":14},{"t":132.4,"d":48},{"t":132.6,"d":3},{"t":132.7,"d":23},{"t":132.9,"d":11},{"t":133.0,"d":36},{"t":133.2,"d":6},{"t":133.3,"d":18},{"t":133.5,"d":27},{"t":133.6,"d":2},{"t":133.8,"d":13},
{"t":130.4,"d":65},{"t":131.0,"d":80},{"t":131.6,"d":58},{"t":132.2,"d":72},{"t":132.8,"d":60},{"t":133.1,"d":85},{"t":131.3,"d":48},
{"t":133.5,"d":45},{"t":133.6,"d":70},{"t":133.8,"d":38},{"t":133.9,"d":92},{"t":134.0,"d":60},{"t":134.1,"d":130},{"t":134.2,"d":52},{"t":134.3,"d":83},{"t":134.4,"d":150},{"t":134.5,"d":66},{"t":134.6,"d":100},{"t":134.7,"d":75},{"t":134.8,"d":165},{"t":134.9,"d":88},{"t":135.0,"d":120},{"t":135.1,"d":56},{"t":135.2,"d":95},{"t":135.3,"d":172},{"t":135.4,"d":140},{"t":135.5,"d":78},{"t":135.6,"d":108},{"t":135.7,"d":158},{"t":135.8,"d":125},{"t":134.3,"d":30},{"t":134.9,"d":45},{"t":135.2,"d":62},
{"t":135.9,"d":195},{"t":136.0,"d":212},{"t":136.1,"d":185},{"t":136.2,"d":228},{"t":136.3,"d":205},{"t":136.4,"d":250},{"t":136.5,"d":190},{"t":136.6,"d":218},{"t":136.7,"d":236},{"t":136.8,"d":200},{"t":136.9,"d":268},{"t":137.0,"d":210},{"t":137.1,"d":183},{"t":137.2,"d":225},{"t":137.3,"d":242},{"t":137.4,"d":205},{"t":137.5,"d":215},{"t":137.6,"d":195},{"t":137.7,"d":260},{"t":137.8,"d":230},{"t":137.9,"d":208},{"t":138.0,"d":222},{"t":138.1,"d":188},{"t":138.3,"d":212},{"t":138.4,"d":245},{"t":138.5,"d":200},{"t":138.6,"d":232},{"t":138.7,"d":218},{"t":138.8,"d":270},{"t":138.9,"d":207},{"t":139.0,"d":226},{"t":139.1,"d":192},{"t":139.2,"d":214},{"t":139.3,"d":255},{"t":139.4,"d":203},{"t":139.5,"d":235},{"t":139.6,"d":173},{"t":139.7,"d":218},{"t":139.9,"d":147},{"t":140.0,"d":228},{"t":140.4,"d":222},{"t":140.8,"d":190},{"t":141.0,"d":260},{"t":141.1,"d":212},{"t":141.2,"d":199},{"t":141.3,"d":225},{"t":141.4,"d":248},{"t":141.5,"d":205},{"t":141.6,"d":218},{"t":141.7,"d":186},{"t":141.8,"d":238},{"t":141.9,"d":210},{"t":142.0,"d":270},{"t":142.1,"d":197},{"t":142.2,"d":225},{"t":142.3,"d":214},{"t":142.4,"d":252},{"t":142.5,"d":203},{"t":142.6,"d":232},{"t":142.7,"d":190},{"t":142.8,"d":220},{"t":142.9,"d":263},{"t":143.0,"d":208},{"t":143.1,"d":195},
{"t":136.2,"d":198},{"t":136.5,"d":208},{"t":136.8,"d":215},{"t":137.1,"d":203},{"t":137.4,"d":222},{"t":137.7,"d":200},{"t":138.0,"d":210},{"t":138.3,"d":197},{"t":138.6,"d":205},{"t":138.9,"d":225},{"t":139.2,"d":201},{"t":139.5,"d":212},{"t":141.2,"d":208},{"t":141.5,"d":220},{"t":141.8,"d":201},{"t":142.1,"d":214},{"t":142.4,"d":206},{"t":142.7,"d":228},{"t":143.0,"d":199},
{"t":143.8,"d":200},{"t":144.0,"d":192},{"t":144.3,"d":210},{"t":144.6,"d":195},{"t":144.9,"d":205},{"t":145.2,"d":188},{"t":145.4,"d":213},
{"t":144.3,"d":254},{"t":144.8,"d":254},{"t":145.3,"d":254},{"t":145.8,"d":254},{"t":146.3,"d":254},
{"t":146.0,"d":95},{"t":146.1,"d":80},{"t":146.2,"d":100},{"t":146.3,"d":72},{"t":146.4,"d":88},{"t":146.5,"d":62},{"t":146.6,"d":96},{"t":146.7,"d":78},{"t":146.8,"d":85},{"t":146.9,"d":70},{"t":147.0,"d":92},{"t":147.1,"d":45},{"t":147.2,"d":82},{"t":147.3,"d":99},{"t":147.4,"d":75},{"t":147.5,"d":88},{"t":147.6,"d":58},{"t":147.7,"d":91},{"t":147.8,"d":33},{"t":148.0,"d":80},{"t":146.3,"d":40},{"t":146.6,"d":52},
{"t":147.8,"d":74},{"t":148.2,"d":74},{"t":148.6,"d":74},{"t":149.0,"d":74},
{"t":149.1,"d":128},{"t":149.5,"d":128},{"t":149.9,"d":128},{"t":150.3,"d":128},{"t":150.7,"d":128},{"t":151.1,"d":128},
{"t":150.6,"d":60},{"t":150.8,"d":45},{"t":151.0,"d":75},{"t":151.1,"d":38},{"t":151.3,"d":88},{"t":151.4,"d":55},{"t":151.6,"d":70},{"t":151.7,"d":93},{"t":151.9,"d":48},{"t":152.0,"d":80},{"t":152.2,"d":66},{"t":152.3,"d":100},{"t":152.5,"d":85},{"t":152.6,"d":58},{"t":152.8,"d":110},{"t":152.9,"d":75},{"t":153.0,"d":95},{"t":153.1,"d":122},{"t":153.2,"d":68},{"t":153.3,"d":88},{"t":153.4,"d":105},{"t":153.5,"d":135},{"t":153.6,"d":80},{"t":153.7,"d":115},{"t":153.8,"d":96},{"t":153.9,"d":145},{"t":154.0,"d":125},{"t":154.1,"d":85},{"t":154.2,"d":108},{"t":154.3,"d":150},{"t":154.4,"d":130},{"t":154.5,"d":92},{"t":154.6,"d":118},{"t":154.7,"d":158},{"t":154.8,"d":140},{"t":154.9,"d":100},{"t":155.0,"d":165},{"t":155.1,"d":128},{"t":155.2,"d":148},{"t":155.3,"d":110},{"t":155.4,"d":170},{"t":155.5,"d":138},{"t":155.6,"d":155},{"t":155.7,"d":175},{"t":155.8,"d":120},{"t":156.0,"d":162},{"t":156.2,"d":145},{"t":153.0,"d":30},{"t":154.0,"d":50},{"t":151.5,"d":25},
{"t":155.2,"d":195},{"t":155.5,"d":210},{"t":155.7,"d":188},{"t":155.9,"d":225},{"t":156.1,"d":200},{"t":156.3,"d":185},{"t":156.4,"d":240},{"t":156.5,"d":215},{"t":156.7,"d":192},{"t":156.8,"d":205},{"t":157.0,"d":268},{"t":157.1,"d":183},{"t":157.2,"d":222},{"t":157.3,"d":198},{"t":157.5,"d":210},{"t":157.6,"d":188},{"t":157.8,"d":250},{"t":157.9,"d":203},{"t":158.0,"d":215},{"t":158.2,"d":192},{"t":158.3,"d":230},{"t":158.4,"d":185},{"t":158.5,"d":208},{"t":158.7,"d":198},{"t":158.8,"d":262},{"t":158.9,"d":322},{"t":159.0,"d":294},{"t":159.1,"d":283},{"t":159.2,"d":276},{"t":159.3,"d":212},{"t":159.4,"d":190},{"t":159.5,"d":245},{"t":159.6,"d":203},{"t":159.8,"d":185},{"t":159.9,"d":220},{"t":160.0,"d":196},{"t":160.2,"d":208},{"t":160.3,"d":182},
{"t":155.4,"d":200},{"t":155.8,"d":192},{"t":156.2,"d":207},{"t":156.6,"d":197},{"t":157.0,"d":212},{"t":157.4,"d":190},{"t":157.8,"d":205},{"t":158.1,"d":201},{"t":158.6,"d":211},{"t":159.3,"d":195},{"t":159.7,"d":207},{"t":160.1,"d":190},
{"t":158.9,"d":90},{"t":159.1,"d":75},{"t":159.2,"d":102},{"t":159.4,"d":68},{"t":159.5,"d":85},{"t":159.7,"d":60},{"t":159.8,"d":95},{"t":160.0,"d":72},{"t":160.1,"d":80},{"t":160.3,"d":109},{"t":160.4,"d":64},{"t":160.5,"d":88},{"t":160.7,"d":50},{"t":160.8,"d":77},{"t":161.0,"d":40},{"t":161.1,"d":92},{"t":161.2,"d":30},{"t":161.4,"d":70},{"t":160.9,"d":25},
{"t":161.2,"d":215},{"t":161.4,"d":200},{"t":161.5,"d":230},{"t":161.7,"d":208},{"t":161.8,"d":245},{"t":161.9,"d":192},{"t":162.0,"d":222},{"t":162.2,"d":212},{"t":162.3,"d":198},{"t":162.4,"d":235},{"t":162.5,"d":205},{"t":162.7,"d":226},{"t":162.8,"d":218},{"t":162.9,"d":260},{"t":163.0,"d":203},{"t":163.1,"d":230},{"t":163.3,"d":210},{"t":163.4,"d":240},{"t":163.5,"d":196},{"t":163.6,"d":225},{"t":163.8,"d":214},{"t":163.9,"d":272},{"t":164.0,"d":205},{"t":164.1,"d":232},{"t":164.2,"d":218},{"t":164.4,"d":200},{"t":164.5,"d":250},{"t":164.6,"d":222},{"t":164.7,"d":210},{"t":164.9,"d":236},{"t":165.0,"d":197},{"t":165.1,"d":215},{"t":165.2,"d":228},{"t":165.4,"d":356},{"t":165.4,"d":206},{"t":165.5,"d":245},{"t":165.6,"d":212},{"t":165.8,"d":225},{"t":165.9,"d":193},{"t":166.0,"d":233},{"t":166.2,"d":208},{"t":166.3,"d":220},{"t":166.4,"d":255},{"t":166.6,"d":202},{"t":166.7,"d":228},{"t":166.8,"d":215},{"t":167.0,"d":238},{"t":167.1,"d":199},{"t":167.2,"d":222},{"t":167.4,"d":210},{"t":167.5,"d":232},{"t":167.6,"d":196},{"t":167.8,"d":218},{"t":167.9,"d":205},
{"t":161.3,"d":205},{"t":161.6,"d":220},{"t":162.1,"d":210},{"t":162.6,"d":200},{"t":163.2,"d":218},{"t":163.7,"d":207},{"t":164.3,"d":225},{"t":164.8,"d":212},{"t":165.3,"d":220},{"t":165.7,"d":204},{"t":166.1,"d":215},{"t":166.5,"d":222},{"t":166.9,"d":207},{"t":167.3,"d":212},{"t":167.7,"d":226},
{"t":165.0,"d":120},{"t":165.1,"d":117},{"t":166.5,"d":134},{"t":167.3,"d":165}
  ]},
  "mark": {"type": "square", "size": 6, "color": "#7f00ff", "opacity": 1},
  "encoding": {
    "x": {"field": "t", "type": "quantitative", "scale": {"domain": [-2.67, 168], "nice": false, "zero": false},
      "axis": {"orient": "bottom", "values": [0,6,12,18,24,30,36,42,48,54,60,66,72,78,84,90,96,102,108,114,120,126,132,138,144,150,156,162,168],
        "labelExpr": "datum.value % 24 === 0 ? timeFormat(datetime(2025, 5, 25 + datum.value / 24), '%d %b') : ''",
        "tickSize": {"condition": {"test": "datum.value % 24 === 0", "value": -7}, "value": -3},
        "labelPadding": 16, "title": "2025", "titlePadding": -3}},
    "y": {"field": "d", "type": "quantitative", "scale": {"domain": [0, 360], "nice": false, "zero": false},
      "axis": {"orient": "left", "values": [0,15,30,45,60,75,90,105,120,135,150,165,180,195,210,225,240,255,270,285,300,315,330,345,360],
        "labelExpr": "datum.value % 45 === 0 ? datum.label : ''",
        "tickSize": {"condition": {"test": "datum.value % 45 === 0", "value": -10}, "value": -5},
        "labelPadding": 16, "title": "Direction (Degrees from North)", "titlePadding": 8}}
  }
},
{
  "data": {"values": [{"g": 90}, {"g": 180}, {"g": 270}]},
  "mark": {"type": "rule", "color": "black", "strokeWidth": 1, "strokeDash": [1, 4]},
  "encoding": {
    "y": {"field": "g", "type": "quantitative", "scale": {"domain": [0, 360], "nice": false, "zero": false},
      "axis": {"orient": "right", "values": [0,45,90,135,180,225,270,315,360],
        "labelExpr": "datum.value == 0 || datum.value == 360 ? 'N' : datum.value == 90 ? 'E' : datum.value == 180 ? 'S' : datum.value == 270 ? 'W' : ''",
        "tickSize": {"condition": {"test": "datum.value % 90 === 0", "value": -10}, "value": -5},
        "labelPadding": 15, "title": "Compass Points", "titleAngle": 270, "titlePadding": 13}}
  }
},
{
  "data": {"values": [{"t": 0}]},
  "mark": {"type": "point", "opacity": 0},
  "encoding": {
    "x": {"field": "t", "type": "quantitative", "scale": {"domain": [-2.67, 168], "nice": false, "zero": false},
      "axis": {"orient": "top", "values": [0,6,12,18,24,30,36,42,48,54,60,66,72,78,84,90,96,102,108,114,120,126,132,138,144,150,156,162,168],
        "labels": false, "title": null,
        "tickSize": {"condition": {"test": "datum.value % 24 === 0", "value": -7}, "value": -3}}}
  }
}
]
}
